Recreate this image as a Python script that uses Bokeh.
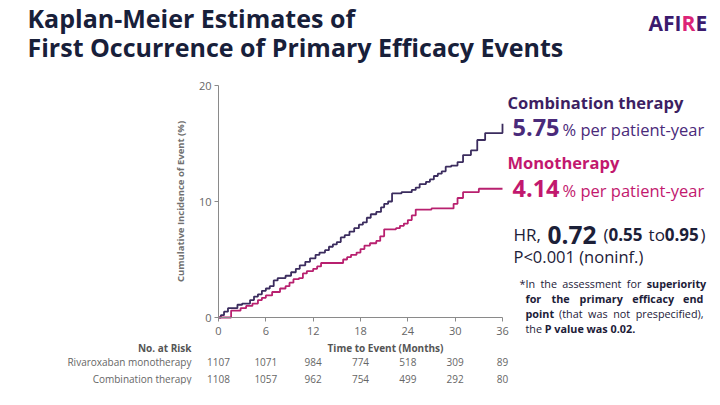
import math
from bokeh.plotting import figure
from bokeh.models import Label, Range1d, FixedTicker
from bokeh.embed import file_html
from bokeh.resources import INLINE

# ---------------- data ----------------
comb_t = [0, 0.3, 0.7, 1.2, 2.4, 3.0, 4.0, 4.5, 5.0, 5.5, 6.0, 6.5, 7.0, 7.5, 8.5, 9.2, 9.8,
          10.3, 11.0, 11.6, 12.3, 12.8, 13.5, 14.0, 14.5, 15.0, 15.5, 16.0, 16.6, 17.2, 17.8,
          18.3, 18.8, 19.3, 20.0, 20.6, 21.0, 21.5, 22.0, 23.2, 24.5, 25.0, 25.5, 26.3, 26.8,
          27.3, 27.8, 28.3, 28.8, 29.5, 30.3, 31.0, 32.0, 32.8, 33.8, 36.0]
comb_y = [0, 0.2, 0.5, 0.8, 1.1, 1.2, 1.5, 1.8, 2.0, 2.3, 2.5, 2.7, 3.2, 3.4, 3.6, 3.9, 4.2,
          4.5, 4.8, 5.1, 5.4, 5.6, 5.8, 6.1, 6.3, 6.5, 6.9, 7.1, 7.4, 7.7, 8.0,
          8.2, 8.6, 8.9, 9.1, 9.5, 9.8, 10.0, 10.7, 10.8, 11.0, 11.2, 11.5, 11.7, 11.9,
          12.2, 12.4, 12.6, 13.0, 13.1, 13.4, 14.0, 14.4, 15.3, 15.9, 16.7]

mono_t = [0, 1.6, 2.8, 3.5, 4.3, 5.0, 5.5, 6.0, 6.8, 7.8, 8.5, 9.0, 9.5, 10.2, 10.7, 11.2,
          12.0, 12.5, 13.0, 15.8, 16.3, 16.8, 17.5, 18.0, 18.5, 19.2, 20.0, 20.5, 21.0, 22.5,
          23.0, 23.5, 24.0, 24.5, 25.0, 27.0, 29.8, 30.3, 31.0, 33.0, 36.0]
mono_y = [0, 0.6, 0.8, 1.0, 1.2, 1.5, 1.7, 1.9, 2.2, 2.5, 2.7, 3.0, 3.3, 3.4, 3.8, 4.0,
          4.2, 4.4, 4.7, 5.0, 5.2, 5.4, 5.6, 5.9, 6.2, 6.4, 6.6, 7.0, 7.6, 7.7,
          7.9, 8.1, 8.4, 8.8, 9.3, 9.4, 9.8, 10.3, 10.8, 11.1, 11.1]

x_ticks = [0, 6, 12, 18, 24, 30, 36]
y_ticks = [0, 10, 20]
risk_mono = [1107, 1071, 984, 774, 518, 309, 89]
risk_comb = [1108, 1057, 962, 754, 499, 292, 80]

COMB = "#3b2c5e"
MONO = "#b8206f"
TXT_P = "#3d1f62"
TXT_P2 = "#4a2a7a"
TXT_M = "#c2186e"
DARK = "#1c2038"
GRAY = "#666666"
FONT = "Open Sans"

W, H = 720, 405
FL, FR, FT, FB = 24, 720, 0, 384
CX0, CX1, CY0, CY1 = 218.0, 502.0, 317.0, 85.0
XS = 36.0 / (CX1 - CX0)
YS = 20.0 / (CY0 - CY1)

p = figure(width=W, height=H, output_backend="svg", toolbar_location=None,
           x_range=Range1d((FL - CX0) * XS, (FR - CX0) * XS),
           y_range=Range1d((CY0 - FB) * YS, (CY0 - FT) * YS),
           min_border_left=FL, min_border_right=W - FR, min_border_top=FT,
           min_border_bottom=H - FB)
p.outline_line_color = None
p.grid.grid_line_color = None
p.background_fill_color = "white"
p.border_fill_color = "white"

p.step(comb_t, comb_y, mode="after", line_color=COMB, line_width=1.8)
p.step(mono_t, mono_y, mode="after", line_color=MONO, line_width=1.8)

for ax in (p.xaxis, p.yaxis):
    ax.axis_line_color = "#8a8a8a"
    ax.major_tick_line_color = "#8a8a8a"
    ax.minor_tick_line_color = None
    ax.major_label_text_color = GRAY
    ax.major_label_text_font = FONT
    ax.major_label_text_font_size = "11px"
    ax.major_tick_in = 0
    ax.major_tick_out = 4
    ax.fixed_location = 0
p.xaxis.ticker = FixedTicker(ticks=x_ticks)
p.yaxis.ticker = FixedTicker(ticks=y_ticks)
p.xaxis.bounds = (0, 36)
p.yaxis.bounds = (0, 20)
p.xaxis.major_label_standoff = 5
p.yaxis.major_label_standoff = 3

# approximate Open Sans advance widths (em)
CW = {' ': .26, '(': .296, ')': .296, ',': .245, '.': .266, '<': .572, '%': .823, '*': .55,
      'H': .754, 'R': .627, 'P': .586, 'I': .292, 'a': .556, 'b': .613, 'c': .479, 'd': .613,
      'e': .561, 'f': .336, 'g': .538, 'h': .613, 'i': .258, 'l': .258, 'm': .932, 'n': .613,
      'o': .602, 'p': .613, 'r': .409, 's': .477, 't': .352, 'u': .613, 'v': .5, 'w': .774,
      'y': .5, 'x': .5}


def tw(s, size, bold):
    w = sum(CW.get(c, .572) for c in s) * size
    return w * (1.06 if bold else 1.0)


def L(px, py, text, size, color, bold=False, align="left", angle=0.0):
    p.add_layout(Label(x=(px - CX0) * XS, y=(CY0 - py) * YS, text=text,
                       text_font=FONT, text_font_size=f"{size}px", text_color=color,
                       text_font_style="bold" if bold else "normal",
                       text_align=align, text_baseline="middle", angle=angle))


def seq(px, py, segs, color):
    # segments drawn one after another; spaces are advanced, not drawn
    x = px
    for s, size, bold in segs:
        lead = len(s) - len(s.lstrip(" "))
        x += lead * CW[" "] * size
        core = s.strip(" ")
        L(x, py, core, size, color, bold)
        x += tw(core, size, bold)
        x += (len(s.lstrip(" ")) - len(core)) * CW[" "] * size


def justify(x0, x1, py, words, size, color):
    widths = [tw(w, size, b) for w, b in words]
    gap = (x1 - x0 - sum(widths)) / max(len(words) - 1, 1)
    x = x0
    for (w, b), wd in zip(words, widths):
        L(x, py, w, size, color, b)
        x += wd + gap


# y axis title
L(180, 201, "Cumulative Incidence of Event (%)", 9.5, "#707070", bold=True,
  align="center", angle=math.pi / 2)

# title
L(27, 17, "Kaplan-Meier Estimates of", 25, "#18203a", bold=True)
L(27, 46, "First Occurrence of Primary Efficacy Events", 25, "#18203a", bold=True)
# logo
L(648, 22, "AFI", 21, "#3b1a6e", bold=True)
L(681, 22, "R", 21, "#dc2477", bold=True)
L(695, 22, "E", 21, "#3b1a6e", bold=True)

# right panel
L(507, 102, "Combination therapy", 16.5, TXT_P, bold=True)
L(512, 127, "5.75", 23.5, TXT_P2, bold=True)
L(562, 129, "% per patient-year", 16.5, TXT_P2)
L(507, 162, "Monotherapy", 16.5, TXT_M, bold=True)
L(512, 188, "4.14", 23.5, TXT_M, bold=True)
L(562, 190, "% per patient-year", 16.5, TXT_M)
seq(513, 234, [("HR,", 17, False), (" 0.72", 24.5, True), (" (", 17, False),
               ("0.55", 17, True), (" to", 17, False), ("0.95", 17, True), (")", 17, False)],
    DARK)
L(513, 256, "P<0.001 (noninf.)", 16.5, DARK)

FS = 10.8
justify(519, 704, 283, [("*In", False), ("the", False), ("assessment", False), ("for", False),
                        ("superiority", True)], FS, DARK)
justify(525, 703, 298, [("for", True), ("the", True), ("primary", True), ("efficacy", True),
                        ("end", True)], FS, DARK)
justify(525, 703, 313, [("point", True), ("(that", False), ("was", False), ("not", False),
                        ("prespecified),", False)], FS, DARK)
seq(525, 328, [("the", FS, False), (" P value was 0.02.", FS, True)], DARK)

# number at risk
L(191, 347, "No. at Risk", 10, "#555555", bold=True, align="right")
L(385, 347, "Time to Event (Months)", 10, "#555555", bold=True, align="center")
L(191, 361, "Rivaroxaban monotherapy", 10, GRAY, align="right")
L(191, 378, "Combination therapy", 10, GRAY, align="right")
for t, a, b in zip(x_ticks, risk_mono, risk_comb):
    for val, py in ((a, 361), (b, 378)):
        p.add_layout(Label(x=t, y=(CY0 - py) * YS, text=str(val), text_font=FONT,
                           text_font_size="10px", text_color=GRAY, text_align="center",
                           text_baseline="middle"))

open("out.html", "w").write(file_html(p, INLINE))
